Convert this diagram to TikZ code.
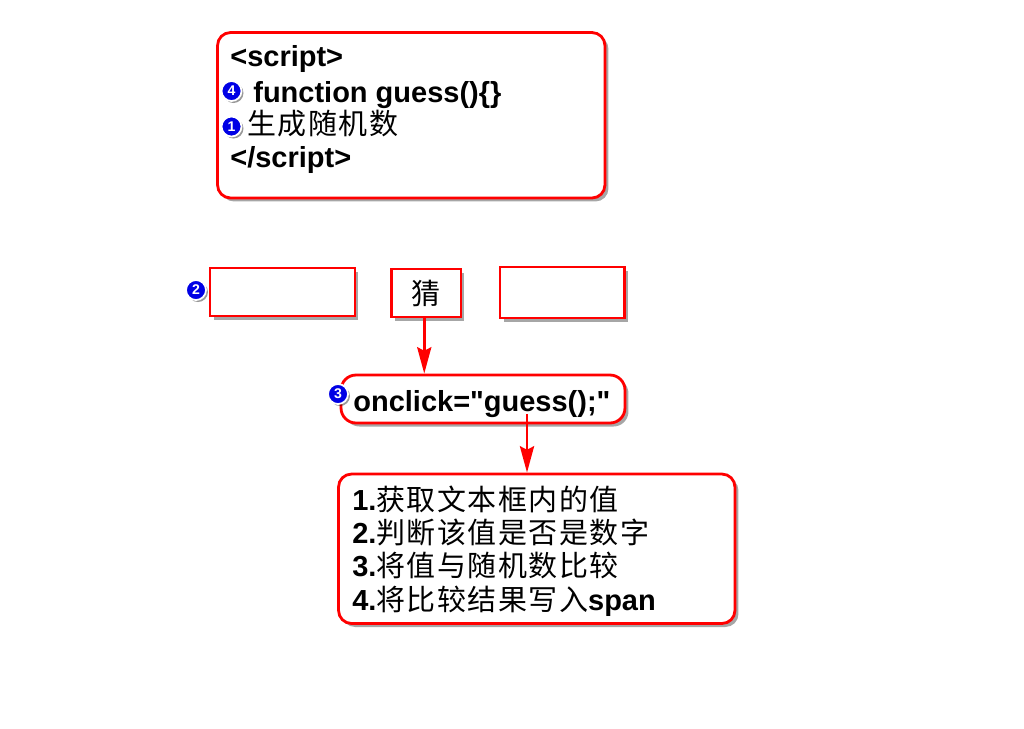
\documentclass[tikz,border=0pt]{standalone}
\usepackage{fontspec}
\setmainfont{Liberation Sans}[Ligatures=TeXOff]
\newfontfamily\cjkfont{Noto Sans CJK SC}[LetterSpace=5]
\newcommand\zhtxt[1]{{\cjkfont\mdseries #1}}
\usetikzlibrary{arrows.meta,shadows}
\begin{document}
\begin{tikzpicture}[x=0.02cm,y=-0.02cm,
 box/.style={draw=red, line width=1.6pt, fill=white, inner sep=0,
   drop shadow={shadow xshift=0.07cm, shadow yshift=-0.07cm, opacity=0.35, fill=black}},
 rbox/.style={box, rounded corners=0.26cm},
 txt/.style={anchor=base west, inner sep=0, font=\fontsize{16.5}{19}\selectfont\bfseries},
 badge/.style={circle, fill=blue!90!black, draw=white, line width=1pt, minimum size=0.4cm,
   inner sep=0, text=white, font=\fontsize{8}{8}\selectfont\bfseries,
   drop shadow={shadow xshift=0.04cm, shadow yshift=-0.04cm, opacity=0.4, fill=black}},
 conn/.style={draw=red, line width=1.6pt, -{Stealth[length=15pt,width=8pt,inset=2pt]}}]
\useasboundingbox (0,0) rectangle (1024,728);
\fill[white] (0,0) rectangle (1024,728);
% top script box
\node[rbox, minimum width=7.75cm, minimum height=3.31cm] (script) at (411.25,115.25) {};
\node[txt] (l1) at (230,66.5) {<script>};
\node[txt] (l2) at (253,102) {function guess()\{\}};
\node[txt] (l3) at (247,134) {\zhtxt{生成随机数}};
\node[txt] (l4) at (230,167) {</script>};
\node[badge] (b4) at (231.5,91) {4};
\node[badge] (b1) at (231.5,126.5) {1};
% row of inputs
\node[box, minimum width=2.9cm, minimum height=0.96cm] (input) at (282.5,292) {};
\node[badge] (b2) at (196,290) {2};
\node[box, minimum width=1.39cm, minimum height=0.96cm, font=\fontsize{16.5}{19}\selectfont] (btn) at (426.25,293) {\zhtxt{猜}};
\node[box, minimum width=2.49cm, minimum height=1.02cm] (span) at (562.25,292.5) {};
% onclick
\node[rbox, minimum width=5.68cm, minimum height=0.96cm, rounded corners=0.3cm] (onclick) at (483,399) {};
\node[txt] (ot) at (353,411) {onclick="guess();"};
\node[badge] (b3) at (338,394) {3};
% steps
\node[rbox, minimum width=7.93cm, minimum height=2.99cm] (steps) at (536.75,548.75) {};
\node[txt] (s1) at (352,510) {1.\zhtxt{获取文本框内的值}};
\node[txt] (s2) at (352,543) {2.\zhtxt{判断该值是否是数字}};
\node[txt] (s3) at (352,576.5) {3.\zhtxt{将值与随机数比较}};
\node[txt] (s4) at (352,610) {4.\zhtxt{将比较结果写入}span};
% connectors
\coordinate (a1) at ([xshift=-0.04cm]btn.south);
\draw[conn] (a1) -- (a1 |- onclick.north);
\coordinate (a2) at (527,414);
\draw[conn] (a2) -- (a2 |- steps.north);
\end{tikzpicture}
\end{document}
